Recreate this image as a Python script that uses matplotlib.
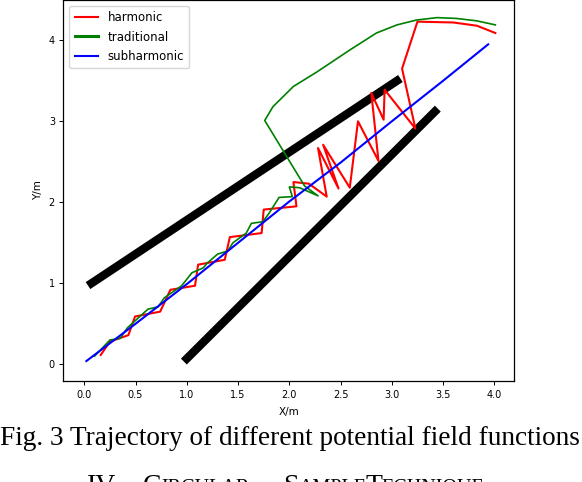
import matplotlib
matplotlib.use('Agg')
import matplotlib.pyplot as plt

# obstacles (two thick walls)
wall_upper_x = [0.07, 3.05]
wall_upper_y = [1.0, 3.5]
wall_lower_x = [1.0, 3.42]
wall_lower_y = [0.07, 3.12]

# harmonic potential field trajectory
harmonic_x = [0.16, 0.25, 0.43, 0.495, 0.74, 0.84, 1.08, 1.11, 1.37, 1.42,
              1.73, 1.75, 2.07, 2.04, 2.19, 2.365, 2.28, 2.48, 2.33, 2.59,
              2.67, 2.87, 2.80, 2.92, 2.93, 3.23, 3.10, 3.25, 3.60, 3.83, 4.01]
harmonic_y = [0.115, 0.28, 0.36, 0.59, 0.65, 0.92, 0.97, 1.23, 1.29, 1.57,
              1.62, 1.91, 1.95, 2.25, 2.23, 2.07, 2.67, 2.17, 2.71, 2.18,
              3.0, 2.51, 3.35, 3.02, 3.39, 2.91, 3.65, 4.23, 4.22, 4.18, 4.09]

# traditional potential field trajectory
traditional_x = [0.1, 0.25, 0.35, 0.42, 0.62, 0.72, 0.78, 0.95, 1.05, 1.16,
                 1.2, 1.3, 1.40, 1.45, 1.58, 1.63, 1.74, 1.80, 1.90, 2.03,
                 2.0, 2.1, 2.28, 2.15, 1.76, 1.84, 2.04, 2.27, 2.59, 2.85,
                 3.05, 3.24, 3.44, 3.63, 3.83, 4.01]
traditional_y = [0.1, 0.3, 0.32, 0.45, 0.68, 0.71, 0.82, 0.97, 1.13, 1.19,
                 1.25, 1.36, 1.40, 1.5, 1.62, 1.74, 1.76, 1.86, 2.06, 2.07,
                 2.19, 2.18, 2.08, 2.2, 3.01, 3.18, 3.43, 3.61, 3.88, 4.09,
                 4.19, 4.25, 4.28, 4.27, 4.24, 4.19]

# subharmonic potential field trajectory
subharmonic_x = [0.02, 0.5, 1.0, 1.5, 2.0, 2.5, 3.0, 3.5, 3.94]
subharmonic_y = [0.04, 0.5, 0.99, 1.5, 2.01, 2.49, 3.0, 3.5, 3.95]

xticks = [0.0, 0.5, 1.0, 1.5, 2.0, 2.5, 3.0, 3.5, 4.0]
yticks = [0, 1, 2, 3, 4]


def main():
    fig = plt.figure(figsize=(5.82, 4.82), dpi=100)
    ax = fig.add_axes([63.3 / 582, 1 - 381.3 / 482, 451 / 582, 381.5 / 482])

    ax.plot(wall_upper_x, wall_upper_y, color='black', lw=6)
    ax.plot(wall_lower_x, wall_lower_y, color='black', lw=6)
    h1, = ax.plot(harmonic_x, harmonic_y, color='red', lw=1.5, label='harmonic')
    h2, = ax.plot(traditional_x, traditional_y, color='green', lw=1.2,
                  label='traditional')
    h3, = ax.plot(subharmonic_x, subharmonic_y, color='blue', lw=1.5,
                  label='subharmonic')

    ax.set_xlim(-0.205, 4.195)
    ax.set_ylim(-0.21, 4.5)
    ax.set_xticks(xticks)
    ax.set_xticklabels(['%.1f' % t for t in xticks])
    ax.set_yticks(yticks)
    ax.tick_params(labelsize=7, length=3, width=0.7, pad=3)
    for s in ax.spines.values():
        s.set_linewidth(0.9)
    ax.set_xlabel('X/m', fontsize=7.5, labelpad=5)
    ax.set_ylabel('Y/m', fontsize=7.5, labelpad=4)

    leg = ax.legend(handles=[h1, h2, h3], loc='upper left', fontsize=8.5,
                    handlelength=2.0, labelspacing=0.55, borderpad=0.45)
    leg.get_lines()[1].set_linewidth(2.2)
    leg.get_lines()[0].set_linewidth(1.5)
    leg.get_lines()[2].set_linewidth(1.5)

    # caption below the chart
    fig.text(0.0, 1 - 445 / 482, 'Fig. 3 Trajectory of different potential field functions',
             family='Liberation Serif', fontsize=19.6, va='baseline', ha='left')

    # section heading in small caps (cut off at the bottom)
    renderer = fig.canvas.get_renderer()
    base = 1 - 493 / 482
    words = [(87, 'IV.', ''), (143, 'C', 'IRCULAR'), (283, 'S', 'AMPLE'),
             (365, 'T', 'ECHNIQUE')]
    for px, big, small in words:
        t = fig.text(px / 582, base, big, family='Liberation Serif',
                     fontsize=20, va='baseline', ha='left')
        if small:
            bb = t.get_window_extent(renderer)
            fig.text(bb.x1 / 582, base, small, family='Liberation Serif',
                     fontsize=14.5, va='baseline', ha='left')

    fig.savefig('out.png', dpi=100)


if __name__ == '__main__':
    main()
